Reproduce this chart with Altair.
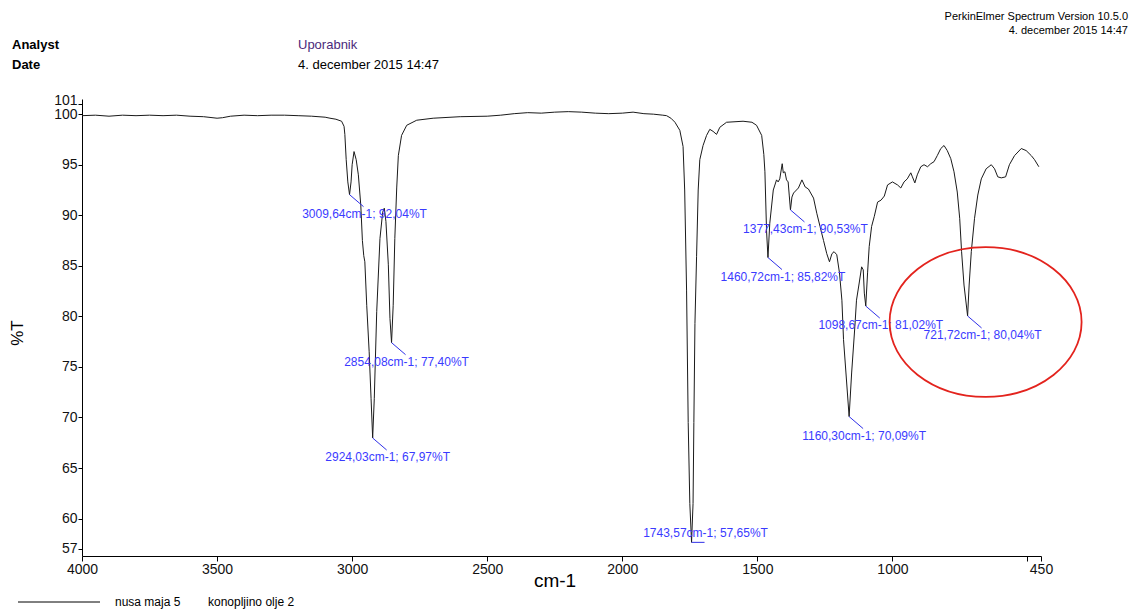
import altair as alt
import pandas as pd

FONT = "Liberation Sans"

# Spectrum: wavenumber (cm-1) and transmittance (%T)
wavenumber = [
    4000, 3950, 3900, 3850, 3800, 3750, 3700, 3650, 3600, 3550, 3500, 3480, 3450,
    3400, 3350, 3300, 3250, 3200, 3150, 3100, 3082, 3060, 3039, 3030, 3027, 3022,
    3016, 3009.64, 3004, 3000, 2993, 2985, 2977, 2968, 2962, 2957, 2953, 2946, 2937,
    2930, 2924.03, 2918, 2909, 2897, 2887, 2881, 2875, 2866, 2860, 2854.08, 2848,
    2842, 2835, 2829, 2817, 2798, 2761, 2700, 2600, 2500, 2450, 2400, 2350, 2300,
    2250, 2200, 2150, 2100, 2050, 2000, 1960, 1920, 1885, 1850, 1836, 1820, 1805,
    1787, 1775, 1769, 1762, 1756, 1750, 1743.57, 1738, 1735, 1731, 1725, 1719, 1713,
    1701, 1688, 1676, 1664, 1651, 1639, 1614, 1553, 1520, 1503, 1484, 1476, 1472,
    1466, 1460.72, 1454, 1441, 1429, 1423, 1417, 1408, 1404, 1398, 1392, 1386, 1382,
    1377.43, 1372, 1366, 1348, 1335, 1323, 1311, 1292, 1280, 1268, 1255, 1243, 1233,
    1224, 1216, 1206, 1196, 1187, 1181, 1172, 1160.30, 1151, 1139, 1133, 1123, 1114,
    1108, 1104, 1098.67, 1092, 1086, 1077, 1067, 1055, 1042, 1030, 1018, 1000, 981,
    969, 957, 945, 932, 926, 917, 908, 895, 883, 870, 858, 846, 834, 821, 809, 797,
    784, 772, 760, 751, 744, 735, 721.72, 716, 708, 696, 684, 671, 653, 634, 622,
    610, 597, 581, 567, 548, 523, 505, 486, 474, 458,
]
transmittance = [
    99.85, 99.9, 99.8, 99.9, 99.85, 99.9, 99.85, 99.9, 99.8, 99.75, 99.6, 99.65, 99.8,
    99.9, 99.85, 99.9, 99.9, 99.85, 99.8, 99.7, 99.6, 99.5, 99.3, 98.8, 98.0, 95.5,
    93.3, 92.04, 93.3, 95.0, 96.3, 95.5, 94.0, 91.0, 87.5, 86.0, 85.4, 81.1, 76.5,
    71.9, 67.97, 71.9, 80.5, 87.7, 90.3, 90.7, 89.4, 85.1, 79.8, 77.40, 81.1,
    87.7, 92.7, 95.9, 97.9, 98.9, 99.4, 99.6, 99.75, 99.8, 99.9, 100.05, 100.15, 100.1,
    100.2, 100.25, 100.2, 100.1, 100.05, 100.1, 100.2, 100.05, 100.0, 99.9, 99.85, 99.6, 99.2,
    98.4, 96.8, 92.5, 82.6, 69.5, 61.5, 57.65, 61.5, 69.5, 79.3, 85.9, 92.5, 95.5,
    96.9, 97.9, 98.5, 98.3, 98.0, 98.7, 99.2, 99.3, 99.2, 98.9, 97.9, 96.0, 94.3,
    88.5, 85.82, 89.2, 92.5, 93.5, 93.3, 93.6, 95.1, 94.2, 94.3, 93.5, 93.3, 92.0,
    90.53, 91.8, 92.2, 92.7, 93.5, 92.8, 92.6, 91.7, 90.2, 88.9, 87.5, 86.2, 85.4,
    86.2, 86.4, 86.1, 84.3, 81.6, 77.7, 74.4, 70.09, 74.4, 79.0, 81.6, 83.3, 84.9,
    84.6, 82.3, 81.02, 84.3, 86.9, 88.9, 89.9, 91.3, 91.5, 91.9, 93.0, 93.3, 93.0,
    92.7, 93.3, 93.6, 94.2, 93.8, 93.2, 94.0, 94.8, 95.0, 94.8, 95.1, 95.3, 95.9, 96.6, 96.9, 96.4,
    95.6, 94.3, 92.3, 89.7, 86.4, 83.1, 80.04, 83.1, 86.4, 89.7, 92.0, 93.6, 94.6, 95.0, 94.6,
    93.8, 93.7, 93.8, 95.0, 95.9, 96.6, 96.4, 95.9, 95.5, 94.8,
]

# Picked peaks
peak_wn = [3009.64, 2924.03, 2854.08, 1743.57, 1460.72, 1377.43, 1160.30, 1098.67, 721.72]
peak_t = [92.04, 67.97, 77.40, 57.65, 85.82, 90.53, 70.09, 81.02, 80.04]

x_ticks = [4000, 3500, 3000, 2500, 2000, 1500, 1000, 500, 450]
y_ticks = [57, 60, 65, 70, 75, 80, 85, 90, 95, 100, 101]


def comma(v):
    return f"{v:.2f}".replace(".", ",")


spectrum = pd.DataFrame({"wn": wavenumber, "t": transmittance})
peaks = pd.DataFrame({
    "wn": peak_wn,
    "t": peak_t,
    "label": [f"{comma(w)}cm-1; {comma(t)}%T" for w, t in zip(peak_wn, peak_t)],
})

x_scale = alt.Scale(domain=[450, 4000], reverse=True, nice=False, zero=False)
y_scale = alt.Scale(domain=[56.3, 101.5], nice=False, zero=False)

x_axis = alt.Axis(
    values=x_ticks, format="d",
    labelExpr="datum.value == 500 ? '' : datum.label",
    title=None, grid=False, labelOverlap=False, labelFlush=False,
    domainColor="#000", tickColor="#000", tickSize=5,
    labelFont=FONT, labelFontSize=14, labelColor="#111", labelPadding=1,
)
y_axis = alt.Axis(
    values=y_ticks, format="d",
    title=None, grid=False, labelOverlap=False, labelFlush=False,
    domainColor="#000", tickColor="#000", tickSize=4,
    labelFont=FONT, labelFontSize=14, labelColor="#111", labelPadding=1,
    labelBaseline={"condition": {"test": "datum.value == 101", "value": "alphabetic"},
                   "value": "middle"},
)

X = alt.X("wn:Q", scale=x_scale, axis=x_axis)
Y = alt.Y("t:Q", scale=y_scale, axis=y_axis)

line = alt.Chart(spectrum).mark_line(color="#1a1a1a", strokeWidth=1).encode(x=X, y=Y)

LABEL_BLUE = "#3a3aff"
LEADER_BLUE = "#3030e8"

upper = alt.Chart(peaks).transform_filter("datum.t >= 60")
leaders = upper.mark_rule(color=LEADER_BLUE, strokeWidth=1, x2Offset=14, y2Offset=12).encode(
    x=X, y=Y, x2="wn:Q", y2="t:Q")
labels = upper.mark_text(color=LABEL_BLUE, font=FONT, fontSize=12, dx=15, dy=19,
                         align="center", baseline="middle").encode(x=X, y=Y, text="label:N")

lowest = alt.Chart(peaks).transform_filter("datum.t < 60")
low_leader = lowest.mark_rule(color=LEADER_BLUE, strokeWidth=1, x2Offset=13).encode(
    x=X, y=Y, x2="wn:Q", y2="t:Q")
low_label = lowest.mark_text(color=LABEL_BLUE, font=FONT, fontSize=12, dx=14, dy=-9,
                             align="center", baseline="middle").encode(x=X, y=Y, text="label:N")

# red ellipse around the 721,72 cm-1 band
ELLIPSE = "M -1 0 A 1 0.78 0 1 1 1 0 A 1 0.78 0 1 1 -1 0 Z"
ellipse = alt.Chart(peaks).transform_filter("datum.wn < 800").mark_point(
    shape=ELLIPSE, size=36864, filled=False, stroke="#e3231d", strokeWidth=1.8,
    opacity=1, xOffset=18, yOffset=6,
).encode(x=X, y=Y)

one = pd.DataFrame({"k": [0]})


def note(text, x, y, **kw):
    style = dict(font=FONT, fontSize=13, color="#000", align="left", baseline="middle")
    style.update(kw)
    return alt.Chart(one).mark_text(text=text, **style).encode(x=alt.value(x), y=alt.value(y))


notes = [
    note("Analyst", -70, -54, fontWeight="bold"),
    note("Date", -70, -34, fontWeight="bold"),
    note("Uporabnik", 216, -54, color="#4b2a7b"),
    note("4. december 2015 14:47", 216, -34),
    note("PerkinElmer Spectrum Version 10.5.0", 1046, -82, align="right", fontSize=11),
    note("4. december 2015 14:47", 1046, -68, align="right", fontSize=11),
    note("cm-1", 473, 482, align="center", fontSize=19),
    note("%T", -64, 234, align="center", fontSize=17, angle=270),
    note("nusa maja 5", 33, 503, fontSize=12),
    note("konopljino olje 2", 126, 503, fontSize=12),
]

legend_line = alt.Chart(one).mark_rule(color="#000", strokeWidth=1).encode(
    x=alt.value(-64), x2=alt.value(18), y=alt.value(503))

chart = alt.layer(
    line, leaders, labels, low_leader, low_label, ellipse, legend_line, *notes
).properties(
    width=959, height=457,
    padding={"left": 82, "top": 99, "right": 92, "bottom": 54},
    autosize=alt.AutoSizeParams(type="none"),
    background="white",
).configure_view(stroke=None)

chart.save("out.html", embed_options={"renderer": "svg", "actions": False})
